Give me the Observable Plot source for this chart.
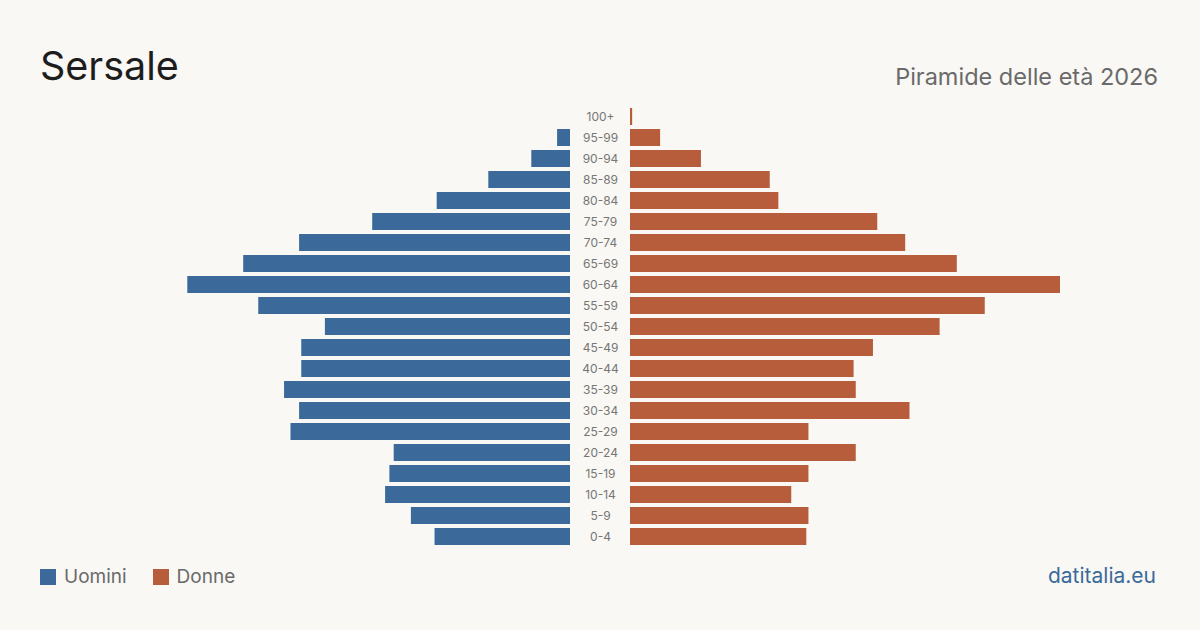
<!DOCTYPE html>
<html lang="it">
<head>
<meta charset="utf-8">
<title>Sersale – Piramide delle età 2026</title>
<script src="https://cdn.jsdelivr.net/npm/d3@7"></script>
<script src="https://cdn.jsdelivr.net/npm/@observablehq/plot@0.6"></script>
<style>
  html, body { margin: 0; padding: 0; background: #f9f8f4; }
  #page {
    position: relative; width: 1200px; height: 630px; overflow: hidden;
    background: #f9f8f4; font-family: Inter, "Noto Sans", sans-serif;
  }
  #title {
    position: absolute; left: 40px; top: 47px; margin: 0;
    font-size: 39.5px; line-height: 1; font-weight: 400; color: #1d1d1d;
  }
  #subtitle {
    position: absolute; right: 42px; top: 65px;
    font-size: 23.5px; line-height: 1; color: #6a6a6a;
  }
  #chart { position: absolute; left: 0; top: 0; display: flex; }
  #chart svg { display: block; overflow: visible; }
  #legend {
    position: absolute; left: 40px; top: 567px; display: flex; align-items: center;
    font-size: 19px; line-height: 19px; color: #6a6a6a;
  }
  #legend .item { display: flex; align-items: center; margin-right: 26px; }
  #legend .sw { width: 16px; height: 16px; margin-right: 8px; }
  #source {
    position: absolute; right: 44px; top: 565px;
    font-size: 21px; line-height: 1; color: #3b6a9a;
  }
</style>
</head>
<body>
<div id="page">
  <h1 id="title">Sersale</h1>
  <div id="subtitle">Piramide delle età 2026</div>
  <div id="chart"></div>
  <div id="legend"></div>
  <div id="source">datitalia.eu</div>
</div>
<script>
// Age classes, youngest first
const ages = ["0-4", "5-9", "10-14", "15-19", "20-24", "25-29", "30-34", "35-39",
  "40-44", "45-49", "50-54", "55-59", "60-64", "65-69", "70-74", "75-79",
  "80-84", "85-89", "90-94", "95-99", "100+"];

// Residents per age class
const uomini = [63, 74, 86, 84, 82, 130, 126, 133, 125, 125, 114, 145, 178, 152, 126, 92, 62, 38, 18, 6, 0];
const donne  = [82, 83, 75, 83, 105, 83, 130, 105, 104, 113, 144, 165, 200, 152, 128, 115, 69, 65, 33, 14, 1];

const series = [
  {key: "uomini", label: "Uomini", color: "#3b6a9a", values: uomini},
  {key: "donne",  label: "Donne",  color: "#b85d3c", values: donne}
];

const rows = s => ages.map((age, i) => ({age, value: s.values[i]}));
const maxValue = d3.max([...uomini, ...donne]);

// Shared vertical layout: oldest class on top
const yScale = {
  type: "band",
  domain: ages.slice().reverse(),
  paddingInner: 0.19,
  paddingOuter: 0.095,
  axis: null
};
const H = 560, MT = 106, MB = 13;
const style = {background: "transparent", fontFamily: "Inter, 'Noto Sans', sans-serif", overflow: "visible"};

// Men: bars grow leftwards from the centre column
const left = Plot.plot({
  width: 570, height: H, marginTop: MT, marginBottom: MB, marginLeft: 140, marginRight: 0,
  style,
  x: {domain: [0, maxValue], reverse: true, axis: null},
  y: yScale,
  marks: [
    Plot.barX(rows(series[0]), {x: "value", y: "age", fill: series[0].color})
  ]
});

// Centre column with the age class labels
const middle = Plot.plot({
  width: 60, height: H, marginTop: MT, marginBottom: MB, marginLeft: 0, marginRight: 0,
  style,
  y: yScale,
  marks: [
    Plot.text(ages, {y: d => d, text: d => d, frameAnchor: "middle", fontSize: 12, fill: "#767676"})
  ]
});

// Women: bars grow rightwards
const right = Plot.plot({
  width: 570, height: H, marginTop: MT, marginBottom: MB, marginLeft: 0, marginRight: 140,
  style,
  x: {domain: [0, maxValue], axis: null},
  y: yScale,
  marks: [
    Plot.barX(rows(series[1]), {x: "value", y: "age", fill: series[1].color})
  ]
});

const chart = document.getElementById("chart");
chart.append(left, middle, right);

// Legend
const legend = d3.select("#legend");
for (const s of series) {
  const item = legend.append("div").attr("class", "item");
  item.append("div").attr("class", "sw").style("background", s.color);
  item.append("span").text(s.label);
}
</script>
</body>
</html>
